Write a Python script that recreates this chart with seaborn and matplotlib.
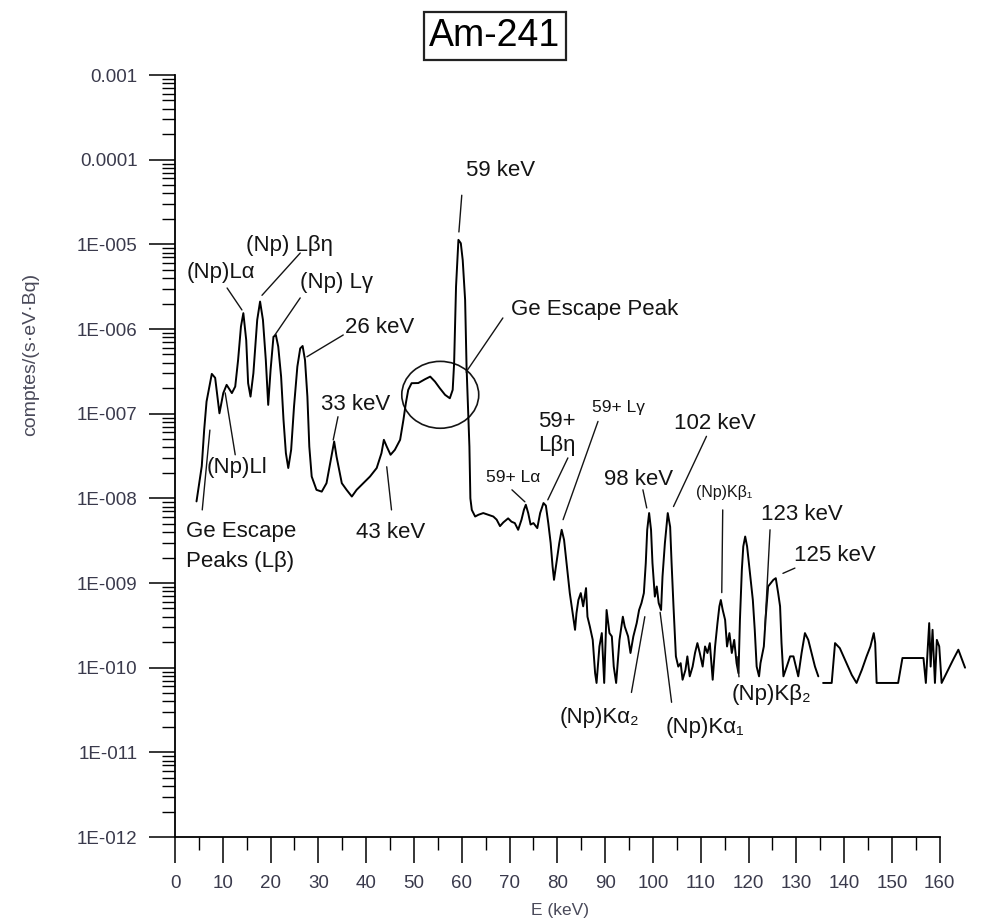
import numpy as np
import pandas as pd
import matplotlib
matplotlib.use("Agg")
import matplotlib.pyplot as plt
from matplotlib.ticker import FixedLocator, FixedFormatter, LogLocator, NullFormatter
from matplotlib.patches import Ellipse
import seaborn as sns

# ---- spectrum data (energy in keV, count rate in counts/(s·eV·Bq)) ----
energy_kev = [
    4.5, 5.6, 6.1, 6.6, 7.7, 8.4, 9.3, 10.1, 10.8, 11.9,
    12.6, 13.2, 13.8, 14.3, 14.9, 15.3, 15.8, 16.4, 17.2, 17.8,
    18.4, 19.0, 19.5, 20.0, 20.6, 21.1, 21.6, 22.2, 22.7, 23.2,
    23.7, 24.3, 24.9, 25.6, 26.2, 26.7, 27.2, 27.7, 28.1, 28.6,
    29.6, 30.7, 31.7, 32.6, 33.3, 33.8, 34.9, 35.9, 37.0, 38.0,
    39.4, 40.8, 42.2, 43.2, 43.7, 44.3, 45.1, 46.0, 47.1, 47.8,
    48.3, 48.8, 49.5, 50.9, 52.3, 53.4, 54.4, 55.4, 56.5, 57.5,
    58.1, 58.4, 58.8, 59.3, 59.8, 60.2, 60.7, 61.0, 61.4, 61.6,
    61.8, 62.1, 62.8, 63.5, 64.5, 65.5, 66.6, 67.3, 68.0, 68.7,
    69.7, 70.4, 71.1, 71.8, 72.5, 73.0, 73.4, 73.9, 74.4, 75.0,
    75.8, 76.4, 77.1, 77.6, 78.1, 78.6, 79.0, 79.3, 79.9, 80.4,
    80.9, 81.4, 82.0, 82.6, 83.2, 83.7, 84.0, 84.4, 84.9, 85.4,
    86.0, 86.3, 86.8, 87.4, 87.9, 88.2, 88.8, 89.3, 89.8, 90.3,
    90.9, 91.4, 91.8, 92.3, 93.0, 93.7, 94.1, 94.8, 95.3, 95.9,
    96.6, 97.1, 97.6, 98.1, 98.5, 98.8, 99.2, 99.6, 99.9, 100.4,
    100.8, 101.2, 101.7, 102.0, 102.5, 103.1, 103.6, 103.9, 104.3, 104.8,
    105.3, 105.8, 106.2, 106.8, 107.2, 107.7, 108.3, 108.8, 109.3, 109.8,
    110.4, 110.9, 111.4, 111.9, 112.5, 113.0, 113.5, 113.9, 114.2, 114.6,
    115.1, 115.5, 116.0, 116.5, 117.0, 117.5, 117.9, 118.2, 118.6, 118.9,
    119.3, 119.7, 120.3, 120.9, 121.3, 121.7, 122.2, 122.5, 123.2, 123.6,
    124.1, 125.2, 125.7, 126.2, 126.6, 126.9, 127.3, 128.0, 128.7, 129.4,
    129.9, 130.4, 131.1, 131.8, 132.5, 133.2, 133.9, 134.6,
    135.1,
    135.6, 137.4, 138.1, 139.1, 140.5, 141.6, 142.6, 143.7, 144.7, 145.5,
    146.2, 146.5, 146.8, 151.3, 152.2, 156.6, 157.1, 157.4, 157.8, 158.1,
    158.5, 159.0, 159.4, 159.9, 160.4, 162.8, 163.9, 165.3,
]

count_rate = [
    9.2e-9, 2.4e-8, 6.4e-8, 1.39e-7, 2.95e-7, 2.65e-7, 1.01e-7, 1.75e-7, 2.19e-7, 1.75e-7,
    2.09e-7, 4.3e-7, 1.07e-6, 1.54e-6, 7.4e-7, 2.29e-7, 1.59e-7, 3.0e-7, 1.28e-6, 2.11e-6,
    1.28e-6, 4.3e-7, 1.27e-7, 3.29e-7, 8.1e-7, 8.5e-7, 6.2e-7, 2.74e-7, 8.5e-8, 3.42e-8,
    2.28e-8, 3.74e-8, 1.21e-7, 3.6e-7, 5.9e-7, 6.3e-7, 4.3e-7, 1.59e-7, 4.09e-8, 1.81e-8,
    1.26e-8, 1.20e-8, 1.51e-8, 2.85e-8, 4.69e-8, 3.11e-8, 1.51e-8, 1.26e-8, 1.05e-8, 1.26e-8,
    1.51e-8, 1.81e-8, 2.28e-8, 3.42e-8, 4.91e-8, 4.09e-8, 3.27e-8, 3.74e-8, 4.91e-8, 8.5e-8,
    1.33e-7, 1.91e-7, 2.29e-7, 2.3e-7, 2.55e-7, 2.74e-7, 2.39e-7, 2.0e-7, 1.67e-7, 1.52e-7,
    1.91e-7, 3.95e-7, 3.17e-6, 1.13e-5, 1.03e-5, 6.5e-6, 2.21e-6, 3.6e-7, 8.5e-8, 4.09e-8,
    1.0e-8, 7.3e-9, 6.1e-9, 6.4e-9, 6.7e-9, 6.4e-9, 6.1e-9, 5.6e-9, 4.7e-9, 5.2e-9,
    5.8e-9, 5.3e-9, 5.1e-9, 4.25e-9, 5.6e-9, 7.3e-9, 8.4e-9, 6.7e-9, 4.9e-9, 5.1e-9,
    4.45e-9, 6.7e-9, 8.8e-9, 8.2e-9, 5.1e-9, 2.96e-9, 1.57e-9, 1.09e-9, 1.88e-9, 2.96e-9,
    4.25e-9, 3.24e-9, 1.57e-9, 7.6e-10, 4.4e-10, 2.8e-10, 4.4e-10, 6.3e-10, 7.6e-10, 5.3e-10,
    8.7e-10, 4.0e-10, 3.06e-10, 2.13e-10, 8.6e-11, 6.6e-11, 1.78e-10, 2.56e-10, 6.6e-11, 4.8e-10,
    2.56e-10, 2.34e-10, 1.03e-10, 6.6e-11, 2.13e-10, 4.0e-10, 3.06e-10, 2.34e-10, 1.49e-10, 2.34e-10,
    3.36e-10, 4.8e-10, 5.8e-10, 7.6e-10, 1.72e-9, 4.25e-9, 6.7e-9, 4.25e-9, 1.72e-9, 6.9e-10,
    9.1e-10, 5.8e-10, 4.8e-10, 1.19e-9, 2.96e-9, 6.7e-9, 4.6e-9, 1.72e-9, 5.3e-10, 1.36e-10,
    1.03e-10, 1.13e-10, 7.2e-11, 9.4e-11, 1.36e-10, 7.9e-11, 1.03e-10, 1.49e-10, 1.95e-10, 1.49e-10,
    1.03e-10, 1.78e-10, 1.49e-10, 1.95e-10, 7.2e-11, 1.78e-10, 3.36e-10, 5.3e-10, 6.3e-10, 4.8e-10,
    3.67e-10, 1.78e-10, 2.56e-10, 1.49e-10, 2.13e-10, 1.13e-10, 8.6e-11, 3.67e-10, 1.43e-9, 2.7e-9,
    3.54e-9, 2.7e-9, 1.31e-9, 6.3e-10, 2.8e-10, 1.03e-10, 7.9e-11, 1.13e-10, 1.78e-10, 4.0e-10,
    9.1e-10, 1.09e-9, 1.14e-9, 7.6e-10, 5.3e-10, 1.95e-10, 7.9e-11, 1.03e-10, 1.36e-10, 1.36e-10,
    1.03e-10, 7.9e-11, 1.49e-10, 2.56e-10, 2.13e-10, 1.49e-10, 1.03e-10, 7.9e-11,
    np.nan,
    6.6e-11, 6.6e-11, 1.95e-10, 1.70e-10, 1.13e-10, 8.2e-11, 6.6e-11, 9.4e-11, 1.36e-10, 1.78e-10,
    2.56e-10, 1.95e-10, 6.6e-11, 6.6e-11, 1.30e-10, 1.30e-10, 6.6e-11, 1.36e-10, 3.36e-10, 1.03e-10,
    2.8e-10, 6.6e-11, 2.13e-10, 1.78e-10, 6.6e-11, 1.24e-10, 1.63e-10, 1.0e-10,
]

x_ticks = list(range(0, 161, 10))
x_minor_ticks = list(range(5, 160, 10))
y_ticks = [1e-12, 1e-11, 1e-10, 1e-9, 1e-8, 1e-7, 1e-6, 1e-5, 1e-4, 1e-3]
y_tick_labels = ["1E-012", "1E-011", "1E-010", "1E-009", "1E-008",
                 "1E-007", "1E-006", "1E-005", "0.0001", "0.001"]

# peak labels: text, text position (keV, rate), font size, leader start, leader end
peak_labels = [
    ("59 keV", (68.2, 7.5e-5), 16, (60.0, 3.8e-5), (59.4, 1.4e-5)),
    ("Ge Escape Peak", (87.7, 1.68e-6), 16, (68.6, 1.35e-6), (60.9, 3.1e-7)),
    ("(Np)Lα", (9.6, 4.6e-6), 16, (10.9, 3.05e-6), (14.0, 1.68e-6)),
    ("(Np) Lβη", (23.9, 9.8e-6), 16, (26.2, 7.9e-6), (18.2, 2.5e-6)),
    ("(Np) Lγ", (33.7, 3.5e-6), 16, (26.2, 2.33e-6), (20.9, 8.5e-7)),
    ("26 keV", (42.9, 1.03e-6), 16, (35.2, 8.5e-7), (27.6, 4.7e-7)),
    ("33 keV", (37.7, 1.27e-7), 16, (34.1, 9.2e-8), (33.1, 4.9e-8)),
    ("43 keV", (45.2, 4.0e-9), 16, (44.3, 2.36e-8), (45.3, 7.3e-9)),
    ("(Np)Ll", (13.0, 2.29e-8), 16, (12.6, 3.27e-8), (10.5, 1.76e-7)),
    ("59+ Lα", (70.7, 1.75e-8), 12.5, (70.5, 1.26e-8), (73.2, 9.1e-9)),
    ("59+\nLβη", (79.8, 5.8e-8), 16, (82.2, 3.0e-8), (78.0, 9.6e-9)),
    ("59+ Lγ", (92.7, 1.17e-7), 12.5, (88.5, 8.1e-8), (81.2, 5.6e-9)),
    ("98 keV", (96.9, 1.65e-8), 16, (97.9, 1.26e-8), (98.7, 7.7e-9)),
    ("102 keV", (113.0, 7.6e-8), 16, (111.2, 5.4e-8), (104.3, 8.0e-9)),
    ("(Np)Kβ₁", (114.9, 1.16e-8), 11.5, (114.6, 7.3e-9), (114.4, 7.7e-10)),
    ("123 keV", (131.2, 6.4e-9), 16, (124.5, 4.25e-9), (123.4, 2.8e-10)),
    ("125 keV", (138.1, 2.1e-9), 16, (129.7, 1.5e-9), (127.2, 1.3e-9)),
    ("(Np)Kα₂", (88.9, 2.6e-11), 16, (95.5, 5.1e-11), (98.3, 4.0e-10)),
    ("(Np)Kα₁", (110.9, 1.95e-11), 16, (103.9, 3.9e-11), (101.5, 4.5e-10)),
    ("(Np)Kβ₂", (124.7, 4.8e-11), 16, (118.0, 7.8e-11), (117.6, 1.35e-10)),
]

# ---- styling ----
sns.set_theme(style="ticks")
plt.rcParams["font.family"] = ["Liberation Sans", "DejaVu Sans"]
TEXT_FONT = ["Liberation Sans", "DejaVu Sans"]
INK = "#141414"
TICK_INK = "#3a3a4c"

fig = plt.figure(figsize=(9.81, 9.23), dpi=100)
ax = fig.add_axes([0.17839, 0.09317, 0.80632, 0.82557])
ax.set_yscale("log")

# spectrum, broken where the channel is empty
spec = pd.DataFrame({"E": energy_kev, "rate": count_rate})
spec["segment"] = spec["rate"].isna().cumsum()
spec = spec.dropna()
sns.lineplot(data=spec, x="E", y="rate", units="segment", estimator=None,
             sort=False, color="black", lw=1.4, legend=False, ax=ax)

ax.set_xlim(0, 165.5)
ax.set_ylim(1e-12, 1e-3)

# axes look
for side in ("top", "right"):
    ax.spines[side].set_visible(False)
for side in ("left", "bottom"):
    ax.spines[side].set_linewidth(1.3)
    ax.spines[side].set_color("black")
ax.spines["bottom"].set_bounds(0, 160)

ax.xaxis.set_major_locator(FixedLocator(x_ticks))
ax.xaxis.set_minor_locator(FixedLocator(x_minor_ticks))
ax.set_xticklabels([str(t) for t in x_ticks])
ax.yaxis.set_major_locator(FixedLocator(y_ticks))
ax.yaxis.set_major_formatter(FixedFormatter(y_tick_labels))
ax.yaxis.set_minor_locator(LogLocator(base=10, subs=np.arange(2, 10), numticks=20))
ax.yaxis.set_minor_formatter(NullFormatter())

ax.tick_params(axis="both", which="major", direction="out", length=19, width=1.1,
               color="black", labelsize=13.5, labelcolor=TICK_INK, pad=8)
ax.tick_params(axis="both", which="minor", direction="out", length=9.5, width=1.0,
               color="black")

ax.set_xlabel("E (keV)", fontsize=12.5, color="#4a4a5a")
ax.xaxis.set_label_coords(0.487, -0.096)
ax.xaxis.label.set_va("center")
ax.set_ylabel("comptes/(s·eV·Bq)", fontsize=14, color="#4a4a5a")
ax.yaxis.set_label_coords(-0.183, 0.633)
ax.yaxis.label.set_va("center")

# peak labels and leader lines
for text, (tx, ty), size, start, end in peak_labels:
    ax.annotate("", xy=end, xytext=start,
                arrowprops=dict(arrowstyle="-", color=INK, lw=1.0,
                                shrinkA=0, shrinkB=0))
    ax.text(tx, ty, text, ha="center", va="center", fontsize=size,
            color=INK, family=TEXT_FONT, linespacing=1.15)

# escape peaks label (left aligned, two lines)
ax.annotate("", xy=(7.3, 6.4e-8), xytext=(5.7, 7.3e-9),
            arrowprops=dict(arrowstyle="-", color=INK, lw=1.0, shrinkA=0, shrinkB=0))
ax.text(2.2, 2.67e-9, "Ge Escape\nPeaks (Lβ)", ha="left", va="center",
        fontsize=16, color=INK, family=TEXT_FONT, linespacing=1.55)

# ring around the Ge escape bump below the 59 keV line
centre = ax.transAxes.inverted().transform(ax.transData.transform((55.5, 1.67e-7)))
ax.add_patch(Ellipse(centre, width=16.1 / 165.5, height=0.79 / 9.0,
                     transform=ax.transAxes, fill=False, ec=INK, lw=1.2))

# boxed title
fig.text(495 / 981, 1 - 36 / 923, "Am-241", ha="center", va="center",
         fontsize=27, color="black", family=TEXT_FONT,
         bbox=dict(boxstyle="square,pad=0.15", fc="white", ec="#222222", lw=1.6))

fig.savefig("out.png", dpi=100)
